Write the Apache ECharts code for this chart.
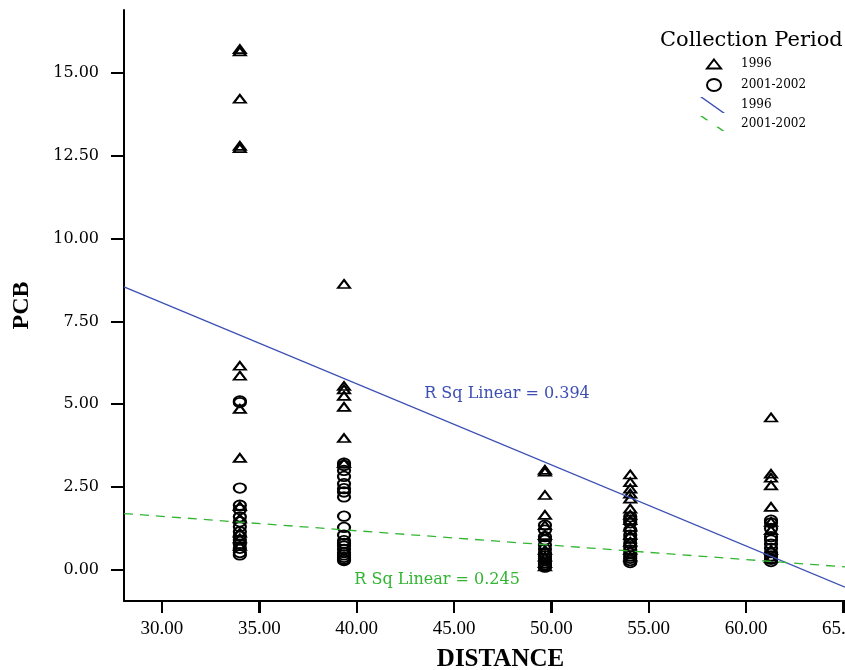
<!DOCTYPE html>
<html>
<head>
<meta charset="utf-8">
<script src="https://cdn.jsdelivr.net/npm/echarts@6/dist/echarts.min.js"></script>
<style>html,body{margin:0;padding:0;background:#fff}#c{width:845px;height:670px}</style>
</head>
<body>
<div id="c"></div>
<script>
// ---- data ----
const sites = [34.0, 39.35, 49.67, 54.05, 61.28];
const pcb1996BySite = [
  [15.72, 15.65, 14.22, 12.80, 12.73, 6.16, 5.86, 4.86, 3.38, 1.92, 1.55, 1.12, 0.95, 0.72],
  [8.63, 5.55, 5.45, 5.25, 4.92, 3.98, 3.22],
  [3.02, 2.96, 2.26, 1.66, 1.35, 1.05, 0.60, 0.40, 0.20, 0.10],
  [2.88, 2.65, 2.45, 2.30, 2.15, 1.85, 1.66, 1.50, 1.30, 1.05, 0.85, 0.60, 0.40],
  [4.60, 2.90, 2.78, 2.55, 1.90, 1.45, 1.20, 0.60, 0.35]
];
const pcb2001BySite = [
  [5.10, 5.05, 2.47, 1.95, 1.82, 1.60, 1.45, 1.30, 1.15, 1.02, 0.90, 0.78, 0.65, 0.52, 0.45],
  [3.22, 3.15, 3.00, 2.82, 2.60, 2.45, 2.35, 2.20, 1.62, 1.28, 1.05, 0.88, 0.80, 0.72, 0.62, 0.52, 0.45, 0.38, 0.32, 0.28],
  [1.35, 1.20, 1.00, 0.90, 0.75, 0.62, 0.50, 0.42, 0.35, 0.28, 0.20, 0.15, 0.10, 0.08],
  [1.60, 1.50, 1.42, 1.20, 1.05, 0.95, 0.80, 0.70, 0.60, 0.50, 0.42, 0.35, 0.28, 0.22],
  [1.50, 1.42, 1.25, 1.00, 0.90, 0.78, 0.65, 0.52, 0.42, 0.32, 0.25]
];
const fit1996 = [[28.05, 8.54], [65.08, -0.52]];
const fit2001 = [[28.05, 1.70], [65.08, 0.09]];
const rSqValues = [0.394, 0.245];
const xTicks = [30, 35, 40, 45, 50, 55, 60, 65];
const yTicks = [0, 2.5, 5, 7.5, 10, 12.5, 15];
const periodNames = ['1996', '2001-2002'];

// ---- build ----
const toPoints = bySite => sites.flatMap((x, i) => bySite[i].map(v => [x, v]));
const BLUE = '#3c4fb4';
const GREEN = '#33b533';
const ELLIPSE = 'path://M0,4.75A6,4.75,0,1,0,12,4.75A6,4.75,0,1,0,0,4.75Z';
const X_MIN = 28.05, X_MAX = 65.08, Y_MIN = -0.94, Y_MAX = 16.9;

const chart = echarts.init(document.getElementById('c'), null, {renderer: 'canvas'});
chart.setOption({
  animation: false,
  backgroundColor: '#fff',
  title: {
    text: 'Collection Period', left: 655, top: 25,
    textStyle: {fontFamily: 'DejaVu Serif', fontSize: 21, fontWeight: 'normal', color: '#000'}
  },
  legend: {
    orient: 'vertical', left: 694, top: 50,
    itemWidth: 28, itemHeight: 16, itemGap: 3,
    textStyle: {fontFamily: 'DejaVu Serif', fontSize: 12, color: '#000', padding: [0, 0, 0, 8]},
    formatter: n => n.replace('Fit ', ''),
    data: [
      {name: periodNames[0], icon: 'path://M0,0M28,16M14,3.5L21,12.5L7,12.5Z'},
      {name: periodNames[1], icon: 'path://M0,0M28,16M7,8A7,6,0,1,0,21,8A7,6,0,1,0,7,8Z'},
      {name: 'Fit ' + periodNames[0], icon: 'path://M28,16M0,0L2.4,0L25,16L22.6,16Z',
        itemStyle: {color: BLUE, borderColor: BLUE, borderWidth: 0, opacity: 1}},
      {name: 'Fit ' + periodNames[1], icon: 'path://M28,16M0,0L2.5,0L8.5,4.3L6,4.3ZM16,10.7L18.5,10.7L24.5,15L22,15Z',
        itemStyle: {color: GREEN, borderColor: GREEN, borderWidth: 0, opacity: 1}}
    ]
  },
  grid: {left: 124, right: 0, top: 10, bottom: 69,
    outerBounds: {left: -200, right: -200, top: -200, bottom: -200}},
  xAxis: {
    type: 'value', min: X_MIN, max: X_MAX, position: 'bottom',
    name: 'DISTANCE', nameLocation: 'middle', nameGap: 46,
    nameTextStyle: {fontFamily: 'Liberation Serif', fontSize: 25, fontWeight: 'bold', color: '#000', padding: [0, 0, 0, 32]},
    axisLine: {show: true, onZero: false, lineStyle: {color: '#000', width: 2}},
    axisTick: {show: true, length: 12, lineStyle: {color: '#000', width: 2}, customValues: xTicks},
    axisLabel: {customValues: xTicks, margin: 19, formatter: v => v.toFixed(2),
      fontFamily: 'Liberation Serif', fontSize: 19, color: '#000',
      backgroundColor: 'transparent', textBorderWidth: 0},
    splitLine: {show: false}
  },
  yAxis: {
    type: 'value', min: Y_MIN, max: Y_MAX,
    name: 'PCB', nameLocation: 'middle', nameGap: 90, nameRotate: 90,
    nameTextStyle: {fontFamily: 'Liberation Serif', fontSize: 24, fontWeight: 'bold', color: '#000'},
    axisLine: {show: true, onZero: false, lineStyle: {color: '#000', width: 2}},
    axisTick: {show: true, length: 13, lineStyle: {color: '#000', width: 2}, customValues: yTicks},
    axisLabel: {customValues: yTicks, margin: 25, formatter: v => v.toFixed(2),
      fontFamily: 'DejaVu Serif', fontSize: 16, color: '#000'},
    splitLine: {show: false}
  },
  series: [
    {
      name: periodNames[1], type: 'scatter', data: toPoints(pcb2001BySite),
      symbol: ELLIPSE, symbolSize: [12, 9.5], symbolKeepAspect: false,
      itemStyle: {color: 'rgba(0,0,0,0)', borderColor: '#000', borderWidth: 2, opacity: 1},
      emphasis: {disabled: true}
    },
    {
      name: periodNames[0], type: 'scatter', data: toPoints(pcb1996BySite),
      symbol: 'triangle', symbolSize: [12, 8],
      itemStyle: {color: 'rgba(0,0,0,0)', borderColor: '#000', borderWidth: 2, opacity: 1},
      emphasis: {disabled: true}
    },
    {
      name: 'Fit ' + periodNames[0], type: 'line', data: fit1996, symbol: 'none',
      color: BLUE, lineStyle: {color: BLUE, width: 1.3}, silent: true, z: 5,
      markPoint: {
        symbol: 'circle', symbolSize: 1, itemStyle: {color: 'rgba(0,0,0,0)'}, silent: true,
        label: {show: true, position: 'inside', formatter: 'R Sq Linear = ' + rSqValues[0].toFixed(3),
          fontFamily: 'DejaVu Serif', fontSize: 16, color: BLUE},
        data: [{coord: [47.72, 5.31]}]
      }
    },
    {
      name: 'Fit ' + periodNames[1], type: 'line', data: fit2001, symbol: 'none',
      color: GREEN, lineStyle: {color: GREEN, width: 1.3, type: [9, 7]}, silent: true, z: 5,
      markPoint: {
        symbol: 'circle', symbolSize: 1, itemStyle: {color: 'rgba(0,0,0,0)'}, silent: true,
        label: {show: true, position: 'inside', formatter: 'R Sq Linear = ' + rSqValues[1].toFixed(3),
          fontFamily: 'DejaVu Serif', fontSize: 16, color: GREEN},
        data: [{coord: [44.13, -0.30]}]
      }
    }
  ]
});

// x-axis tick marks placed through the chart's own x scale, drawn on a top layer so nothing covers them
const axisY = chart.convertToPixel({yAxisIndex: 0}, Y_MIN);
chart.setOption({
  graphic: xTicks.map(v => {
    const px = Math.round(chart.convertToPixel({xAxisIndex: 0}, v));
    return {
      type: 'line', silent: true, zlevel: 1, z: 100,
      shape: {x1: px, y1: axisY, x2: px, y2: axisY + 12},
      style: {stroke: '#000', lineWidth: 2}
    };
  })
});
</script>
</body>
</html>
